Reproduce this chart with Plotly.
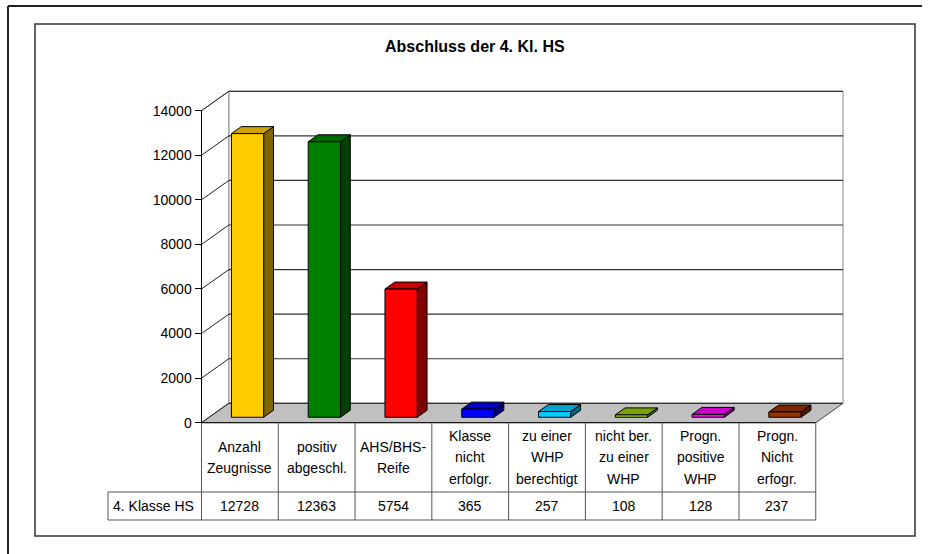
import plotly.graph_objects as go

# ---------------- data ----------------
title_text = "Abschluss der 4. Kl. HS"
series_name = "4. Klasse HS"
categories = [
    "Anzahl<br>Zeugnisse",
    "positiv<br>abgeschl.",
    "AHS/BHS-<br>Reife",
    "Klasse<br>nicht<br>erfolgr.",
    "zu einer<br>WHP<br>berechtigt",
    "nicht ber.<br>zu einer<br>WHP",
    "Progn.<br>positive<br>WHP",
    "Progn.<br>Nicht<br>erfogr.",
]
values = [12728, 12363, 5754, 365, 257, 108, 128, 237]
bar_colors = ["#FFCC00", "#008000", "#FF0000", "#0000FF",
              "#00CCFF", "#99CC00", "#FF00FF", "#993300"]
y_ticks = [0, 2000, 4000, 6000, 8000, 10000, 12000, 14000]
y_tick_labels = [str(t) for t in y_ticks]

# ---------------- layout geometry (pixels) ----------------
W, H = 931, 554
X0_PX = 201.5          # pixel of category boundary 0 (front)
CAT_PX = 76.78         # pixels per category
Y0_PX = 422.7          # pixel of value 0 (front)
VAL_PX = 312.0 / 14000 # pixels per value unit
DEPTH_X_PX, DEPTH_Y_PX = 27.3, 19.4

xrange = [(0 - X0_PX) / CAT_PX, (W - X0_PX) / CAT_PX]
yrange = [(Y0_PX - H) / VAL_PX, Y0_PX / VAL_PX]
DX = DEPTH_X_PX / CAT_PX
DY = DEPTH_Y_PX / VAL_PX

n = len(categories)
vmax = y_ticks[-1]
FONT = "Arial, Liberation Sans, sans-serif"
TXT = 14


def py(px):
    return 1 - px / H


def px_x(px):
    return px / W


def shade(hex_color, f):
    h = hex_color.lstrip("#")
    r, g, b = (int(h[i:i + 2], 16) for i in (0, 2, 4))
    return "#%02X%02X%02X" % (int(r * f), int(g * f), int(b * f))


fig = go.Figure()


def poly(xs, ys, fill, line_color, width=1):
    fig.add_trace(go.Scatter(
        x=xs + [xs[0]], y=ys + [ys[0]], mode="lines", fill="toself",
        fillcolor=fill, line=dict(color=line_color, width=width),
        hoverinfo="skip", showlegend=False))


def seg(xs, ys, color, width=1):
    fig.add_trace(go.Scatter(
        x=xs, y=ys, mode="lines", line=dict(color=color, width=width),
        hoverinfo="skip", showlegend=False))


# back wall
poly([DX, n + DX, n + DX, DX], [DY, DY, vmax + DY, vmax + DY], "white", "#8C8C8C")
# left side wall
poly([0, DX, DX, 0], [0, DY, vmax + DY, vmax], "white", "#8C8C8C")
# floor
poly([0, n, n + DX, DX], [0, 0, DY, DY], "#C0C0C0", "#808080")

# gridlines on back wall and side wall
for t in y_ticks:
    seg([DX, n + DX], [t + DY, t + DY], "#333333", 1.2)
    seg([0, DX], [t, t + DY], "#202020", 1)

# bars
a, b = 0.29, 0.71
d0, d1 = 0.28, 0.64
for i, (v, c) in enumerate(zip(values, bar_colors)):
    xl0, xr0 = i + a + d0 * DX, i + b + d0 * DX
    xl1, xr1 = i + a + d1 * DX, i + b + d1 * DX
    yb0, yb1 = d0 * DY, d1 * DY
    # side face
    poly([xr0, xr1, xr1, xr0], [yb0, yb1, v + yb1, v + yb0], shade(c, 0.5), "black")
    # top face
    poly([xl0, xr0, xr1, xl1], [v + yb0, v + yb0, v + yb1, v + yb1], shade(c, 0.8), "black")
    # front face
    poly([xl0, xr0, xr0, xl0], [yb0, yb0, v + yb0, v + yb0], c, "black")

# front axis lines
seg([0, 0], [0, vmax], "black", 1)
seg([0, n], [0, 0], "black", 1)
seg([n, n + DX], [0, DY], "#606060", 1)

shapes = []
# outer frame (top + left)
shapes.append(dict(type="line", xref="paper", yref="paper",
                   x0=px_x(8), x1=px_x(922), y0=py(6), y1=py(6),
                   line=dict(color="#222222", width=2)))
shapes.append(dict(type="line", xref="paper", yref="paper",
                   x0=px_x(8), x1=px_x(8), y0=py(6), y1=py(554),
                   line=dict(color="#222222", width=2)))
# inner frame
shapes.append(dict(type="rect", xref="paper", yref="paper",
                   x0=px_x(35), x1=px_x(915), y0=py(24), y1=py(536),
                   line=dict(color="#333333", width=1.5)))

# data table grid
ROW_TOP, ROW_BOT = 492, 520
TABLE_LEFT = 108
for i in range(n + 1):
    shapes.append(dict(type="line", xref="x", yref="paper",
                       x0=i, x1=i, y0=py(Y0_PX), y1=py(ROW_BOT),
                       line=dict(color="#555555", width=1)))
for yy in (ROW_TOP, ROW_BOT):
    shapes.append(dict(type="line", xref="x", yref="paper",
                       x0=(TABLE_LEFT - X0_PX) / CAT_PX, x1=n, y0=py(yy), y1=py(yy),
                       line=dict(color="#555555", width=1)))
shapes.append(dict(type="line", xref="x", yref="paper",
                   x0=(TABLE_LEFT - X0_PX) / CAT_PX, x1=(TABLE_LEFT - X0_PX) / CAT_PX,
                   y0=py(ROW_TOP), y1=py(ROW_BOT),
                   line=dict(color="#555555", width=1)))

annotations = []
annotations.append(dict(text="<b>" + title_text + "</b>", xref="paper", yref="paper",
                        x=px_x(475), y=py(47), xanchor="center", yanchor="middle",
                        showarrow=False,
                        font=dict(family=FONT, size=16, color="black")))
HEADER_MID = (Y0_PX + ROW_TOP) / 2
LINE_H = 21.5
for i, cat in enumerate(categories):
    lines = cat.split("<br>")
    m = len(lines)
    for k, ln in enumerate(lines):
        annotations.append(dict(text=ln, xref="x", yref="paper", x=i + 0.5,
                                y=py(HEADER_MID + (k - (m - 1) / 2) * LINE_H),
                                xanchor="center", yanchor="middle",
                                showarrow=False,
                                font=dict(family=FONT, size=TXT, color="black")))
    annotations.append(dict(text=str(values[i]), xref="x", yref="paper", x=i + 0.5,
                            y=py((ROW_TOP + ROW_BOT) / 2),
                            xanchor="center", yanchor="middle", showarrow=False,
                            font=dict(family=FONT, size=TXT, color="black")))
annotations.append(dict(text=series_name, xref="paper", yref="paper",
                        x=px_x(111), y=py((ROW_TOP + ROW_BOT) / 2),
                        xanchor="left", yanchor="middle",
                        showarrow=False, font=dict(family=FONT, size=TXT, color="black")))

fig.update_layout(
    width=W, height=H, autosize=False,
    margin=dict(l=0, r=0, t=0, b=0, pad=0),
    paper_bgcolor="white", plot_bgcolor="white",
    showlegend=False,
    xaxis=dict(range=xrange, visible=False, fixedrange=True),
    yaxis=dict(range=yrange, tickvals=y_ticks, ticktext=y_tick_labels,
               ticks="outside", ticklen=7, tickcolor="black", tickwidth=1,
               anchor="free", position=X0_PX / W, side="left",
               showgrid=False, zeroline=False, showline=False, fixedrange=True,
               tickfont=dict(family=FONT, size=TXT, color="black")),
    shapes=shapes,
    annotations=annotations,
)

fig.write_html("out.html", config={"displayModeBar": False},
               post_script="document.body.style.margin='0';document.body.style.overflow='hidden';")
